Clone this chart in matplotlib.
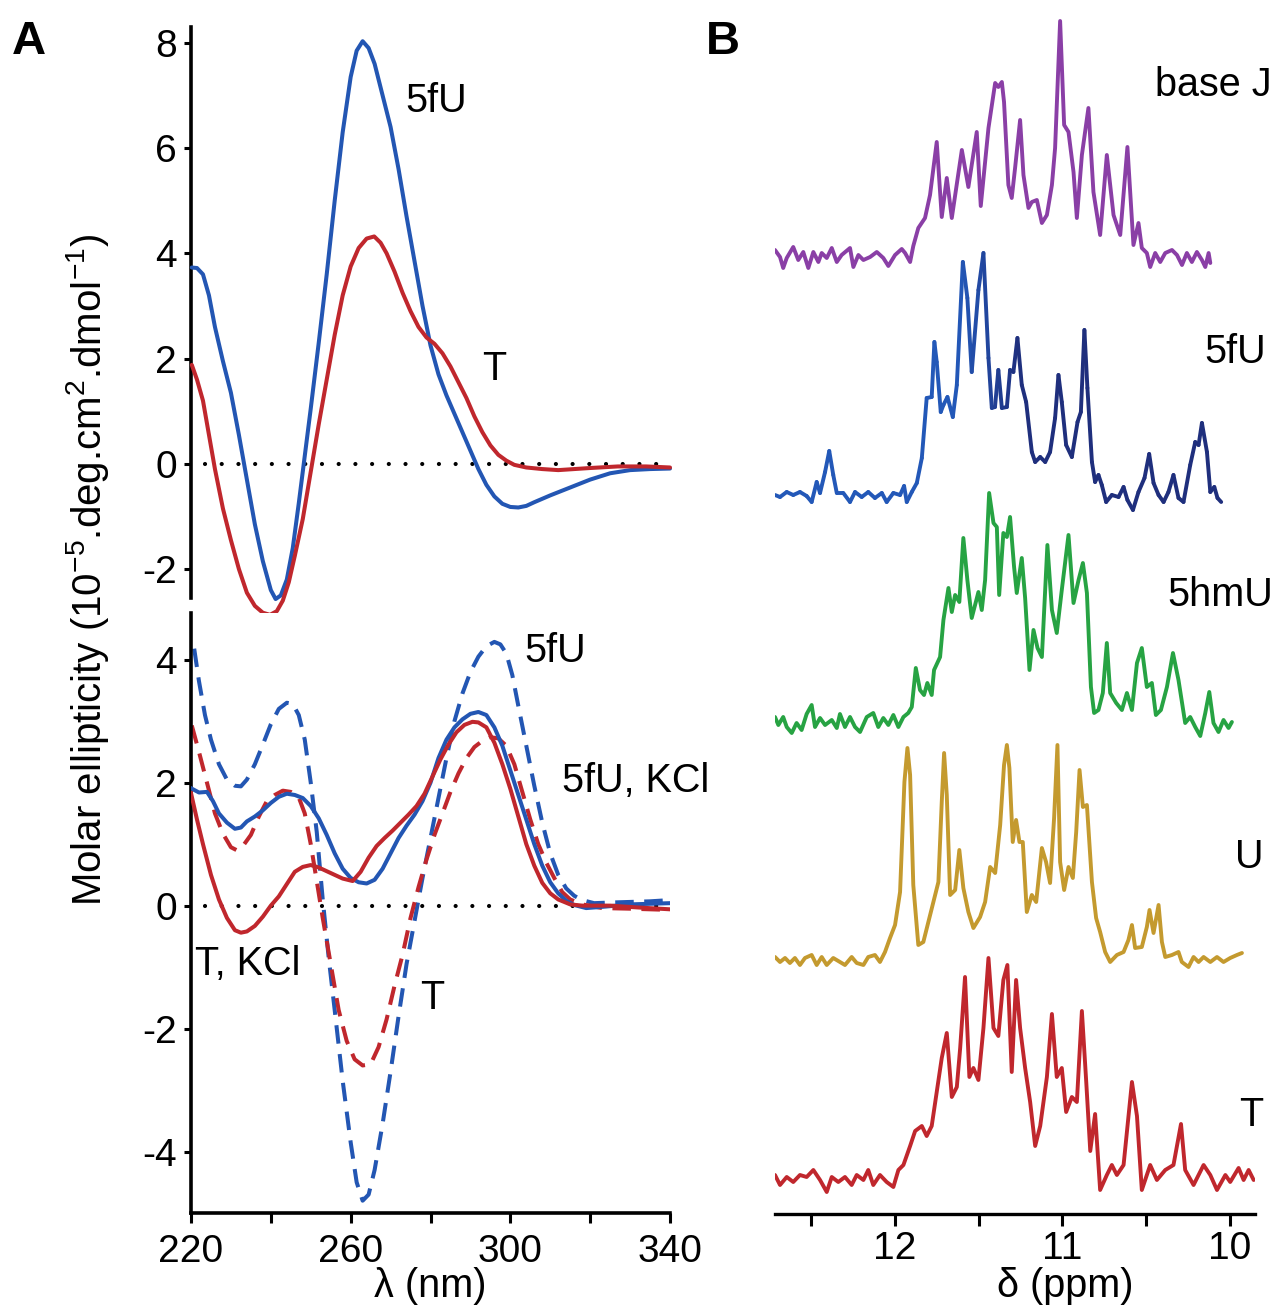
import numpy as np
import matplotlib
matplotlib.use("Agg")
import matplotlib.pyplot as plt
from matplotlib.collections import LineCollection
from matplotlib.colors import LinearSegmentedColormap

plt.rcParams["font.family"] = ["Liberation Sans", "DejaVu Sans"]
plt.rcParams["axes.unicode_minus"] = False
plt.rcParams["mathtext.fontset"] = "custom"
plt.rcParams["mathtext.rm"] = "Liberation Sans"
plt.rcParams["mathtext.it"] = "Liberation Sans"

# ---------------- Panel A: CD spectra (wavelength nm, ellipticity) ----------------
# top: no salt
cd_5fu_nm = [220.2, 221.5, 223, 224.5, 226, 228, 230, 232, 234, 236, 238, 240, 241.2,
             242.5, 244, 245.5, 247, 248.5, 250, 252, 254, 256, 258, 260, 261.5, 263,
             264.5, 266, 268, 270, 272, 274, 276, 278, 280, 282, 284, 286, 288, 290,
             292, 294, 296, 298, 300, 302, 304, 306, 310, 315, 320, 325, 330, 335, 340]
cd_5fu_val = [3.73, 3.72, 3.6, 3.2, 2.6, 1.95, 1.35, 0.55, -0.3, -1.15, -1.85, -2.4, -2.57,
              -2.5, -2.2, -1.6, -0.75, 0.15, 1.05, 2.3, 3.6, 5.0, 6.3, 7.35, 7.85, 8.03,
              7.9, 7.6, 7.0, 6.4, 5.6, 4.7, 3.85, 3.0, 2.25, 1.7, 1.3, 0.95, 0.6, 0.25,
              -0.1, -0.4, -0.62, -0.76, -0.82, -0.83, -0.8, -0.73, -0.6, -0.45, -0.3,
              -0.18, -0.12, -0.1, -0.09]
cd_t_nm = [220.2, 221.5, 223, 224.5, 226, 228, 230, 232, 234, 236, 238, 239.8, 241.5,
           243, 244.5, 246, 248, 250, 252, 254, 256, 258, 260, 262, 264, 265.9, 267.5,
           269, 271, 273, 275, 277, 279, 281, 283, 285, 287, 289, 291, 293, 295, 297,
           299, 301, 304, 308, 312, 316, 320, 327, 334, 340]
cd_t_val = [1.88, 1.6, 1.2, 0.55, -0.1, -0.85, -1.45, -2.0, -2.45, -2.7, -2.83, -2.87, -2.8,
            -2.6, -2.25, -1.75, -1.05, -0.15, 0.75, 1.6, 2.45, 3.2, 3.75, 4.1, 4.28, 4.32, 4.2,
            4.0, 3.65, 3.25, 2.9, 2.6, 2.4, 2.28, 2.1, 1.85, 1.55, 1.25, 0.9, 0.6, 0.35, 0.17,
            0.06, -0.02, -0.07, -0.1, -0.12, -0.1, -0.08, -0.05, -0.05, -0.07]

# bottom: dashed = no KCl, solid = KCl
cd_5fu_d_nm = [220.8, 222, 223.5, 225, 227, 229, 231, 232.5, 234, 236, 238, 240, 242, 244,
               245.5, 247, 248.5, 250, 251.5, 253, 254.5, 256, 258, 260, 261.5, 263, 264.5,
               266, 268, 270, 272, 274, 276, 278, 280, 282, 284, 286, 288, 290, 292, 294,
               296, 297.5, 299, 300.5, 302, 304, 306, 308, 310, 312, 314, 316, 318, 321,
               325, 330, 335, 340]
cd_5fu_d_val = [4.18, 3.65, 3.1, 2.7, 2.3, 2.05, 1.95, 1.94, 2.05, 2.3, 2.62, 2.95, 3.2, 3.3,
                3.28, 3.1, 2.7, 2.0, 1.2, 0.1, -0.85, -1.7, -2.85, -3.85, -4.5, -4.8, -4.7,
                -4.3, -3.55, -2.7, -1.8, -0.95, -0.25, 0.45, 1.1, 1.75, 2.4, 3.0, 3.45, 3.8,
                4.05, 4.22, 4.29, 4.25, 4.1, 3.75, 3.25, 2.6, 1.95, 1.35, 0.85, 0.5, 0.28,
                0.16, 0.09, 0.04, 0.05, 0.06, 0.07, 0.09]
cd_t_d_nm = [220.2, 222, 224, 226, 228, 230, 231.5, 233, 235, 237, 239, 241, 243, 245, 247,
             248.5, 250, 251.5, 253, 255, 257, 259, 261, 263, 265, 267, 269, 271, 273, 275,
             277, 279, 281, 283, 285, 287, 289, 291, 293, 295, 297, 299, 301, 303, 305, 307,
             309, 311, 313, 315, 318, 323, 330, 340]
cd_t_d_val = [2.93, 2.5, 2.0, 1.5, 1.17, 0.95, 0.9, 0.97, 1.15, 1.45, 1.7, 1.8, 1.87, 1.85,
              1.76, 1.5, 1.0, 0.4, -0.2, -0.95, -1.7, -2.2, -2.5, -2.6, -2.58, -2.3, -1.85,
              -1.3, -0.8, -0.2, 0.3, 0.75, 1.15, 1.5, 1.85, 2.15, 2.4, 2.58, 2.68, 2.74, 2.72,
              2.6, 2.3, 1.85, 1.4, 1.0, 0.7, 0.45, 0.22, 0.1, 0.02, -0.04, -0.05, -0.07]
cd_5fu_k_nm = [220, 222, 224, 225.5, 227, 229, 231, 232.5, 234, 236, 238, 240, 242, 244, 246,
               248, 250, 252, 254, 256, 258, 260, 262, 264, 266, 268, 270, 272, 274, 276, 278,
               280, 282, 284, 286, 288, 290, 292, 294, 296, 298, 300, 302, 304, 306, 308, 310,
               312, 314, 316, 319, 323, 330, 340]
cd_5fu_k_val = [1.91, 1.84, 1.85, 1.7, 1.5, 1.35, 1.25, 1.27, 1.37, 1.45, 1.55, 1.67, 1.77,
                1.82, 1.8, 1.75, 1.62, 1.42, 1.15, 0.85, 0.6, 0.45, 0.38, 0.36, 0.42, 0.6,
                0.85, 1.1, 1.3, 1.48, 1.7, 2.0, 2.4, 2.7, 2.9, 3.03, 3.12, 3.15, 3.1, 2.9,
                2.6, 2.2, 1.8, 1.4, 1.0, 0.65, 0.38, 0.2, 0.08, 0.01, -0.04, -0.02, 0.02, 0.04]
cd_t_k_nm = [220, 221.5, 223, 225, 227, 229, 231, 232.5, 234, 236, 238, 240, 242, 244, 246,
             248, 250, 252, 254, 256, 258, 260.5, 262.5, 264.5, 266.5, 268.5, 270.5, 272.5,
             274.5, 276.5, 278.5, 280.5, 282.5, 284.5, 286.5, 288.5, 290.5, 292, 294, 296,
             298, 300, 302, 304, 306, 308, 310, 312, 315, 318, 325, 332, 340]
cd_t_k_val = [1.83, 1.4, 1.0, 0.5, 0.1, -0.2, -0.4, -0.44, -0.42, -0.33, -0.18, 0.0, 0.15,
              0.35, 0.55, 0.63, 0.66, 0.62, 0.56, 0.5, 0.44, 0.4, 0.55, 0.78, 0.97, 1.1, 1.22,
              1.35, 1.48, 1.62, 1.82, 2.1, 2.38, 2.62, 2.82, 2.94, 2.99, 2.98, 2.9, 2.65, 2.3,
              1.9, 1.45, 1.0, 0.65, 0.37, 0.2, 0.1, 0.02, 0.0, 0.0, -0.03, -0.06]

# ---------------- Panel B: 1H NMR imino spectra (ppm, intensity a.u.) ----------------
nmr_j_ppm = [12.717, 12.687, 12.668, 12.647, 12.608, 12.578, 12.548, 12.518, 12.488, 12.458,
             12.438, 12.408, 12.378, 12.348, 12.319, 12.269, 12.249, 12.219, 12.189, 12.149,
             12.109, 12.070, 12.040, 12.000, 11.960, 11.940, 11.910, 11.891, 11.861, 11.821,
             11.791, 11.751, 11.721, 11.691, 11.661, 11.601, 11.562, 11.512, 11.488, 11.442,
             11.402, 11.383, 11.362, 11.349, 11.323, 11.303, 11.283, 11.253, 11.233, 11.203,
             11.183, 11.153, 11.123, 11.093, 11.063, 11.044, 11.014, 10.990, 10.964, 10.934,
             10.914, 10.884, 10.845, 10.815, 10.775, 10.735, 10.695, 10.655, 10.612, 10.576,
             10.546, 10.526, 10.496, 10.476, 10.446, 10.416, 10.386, 10.346, 10.316, 10.286,
             10.257, 10.227, 10.197, 10.167, 10.147, 10.127, 10.117]
nmr_j_int = [8, 1, -10, 0, 11, -2, 6, -10, 6, -4,
             5, 0, 10, -4, 3, 10, -9, 3, -2, 1,
             6, 0, -8, 3, 9, 5, -4, 12, 30, 40,
             63, 116, 41, 80, 40, 108, 71, 126, 52, 130,
             175, 171, 176, 156, 73, 60, 90, 138, 83, 50,
             56, 58, 35, 43, 73, 110, 237, 133, 126, 86,
             40, 103, 150, 66, 23, 103, 43, 23, 111, 13,
             35, 10, 5, -9, 5, -4, 5, 8, 3, -7,
             5, -4, 6, -2, -9, 5, -5]

nmr_5fu_ppm = [12.717, 12.687, 12.647, 12.608, 12.568, 12.528, 12.498, 12.468, 12.448, 12.418,
               12.393, 12.369, 12.348, 12.309, 12.269, 12.239, 12.199, 12.160, 12.120, 12.079,
               12.050, 12.010, 11.970, 11.946, 11.930, 11.900, 11.870, 11.840, 11.811, 11.781,
               11.765, 11.751, 11.727, 11.711, 11.687, 11.655, 11.631, 11.595, 11.568, 11.542,
               11.502, 11.472, 11.442, 11.422, 11.403, 11.383, 11.362, 11.332, 11.313, 11.293,
               11.269, 11.243, 11.217, 11.183, 11.163, 11.133, 11.103, 11.074, 11.044, 11.024,
               11.004, 10.978, 10.944, 10.910, 10.890, 10.869, 10.851, 10.824, 10.805, 10.785,
               10.765, 10.739, 10.705, 10.665, 10.635, 10.612, 10.579, 10.546, 10.510, 10.482,
               10.456, 10.426, 10.396, 10.367, 10.337, 10.307, 10.277, 10.237, 10.207, 10.187,
               10.167, 10.137, 10.117, 10.093, 10.074, 10.052]
nmr_5fu_int = [0, -2, 3, 0, 3, -1, -7, 13, 2, 23,
               44, 20, 2, 2, -7, 3, -2, 3, -3, 2,
               -7, 2, 0, 9, -7, 3, 12, 37, 97, 98,
               153, 133, 83, 90, 98, 78, 110, 233, 197, 123,
               205, 242, 137, 87, 88, 125, 87, 88, 125, 123,
               157, 110, 93, 43, 33, 38, 33, 43, 77, 120,
               93, 50, 38, 73, 83, 165, 107, 33, 13, 20,
               10, -7, 0, -2, 8, -5, -15, 3, 17, 41,
               12, 0, -7, 3, 20, -3, -7, 30, 53, 50,
               72, 43, 3, 8, -3, -7]

nmr_hmu_ppm = [12.717, 12.697, 12.668, 12.647, 12.617, 12.588, 12.558, 12.528, 12.498, 12.478,
               12.448, 12.418, 12.378, 12.348, 12.329, 12.299, 12.269, 12.239, 12.209, 12.169,
               12.130, 12.100, 12.070, 12.040, 12.010, 11.980, 11.950, 11.921, 11.900, 11.876,
               11.851, 11.827, 11.807, 11.781, 11.767, 11.731, 11.711, 11.681, 11.661, 11.641,
               11.616, 11.592, 11.568, 11.542, 11.502, 11.482, 11.462, 11.438, 11.412, 11.392,
               11.378, 11.353, 11.332, 11.313, 11.289, 11.273, 11.243, 11.223, 11.197, 11.173,
               11.149, 11.123, 11.090, 11.063, 11.034, 11.004, 10.964, 10.934, 10.904, 10.878,
               10.854, 10.830, 10.811, 10.785, 10.759, 10.735, 10.715, 10.679, 10.645, 10.615,
               10.585, 10.555, 10.526, 10.496, 10.466, 10.442, 10.412, 10.376, 10.340, 10.307,
               10.267, 10.237, 10.207, 10.177, 10.147, 10.123, 10.098, 10.068, 10.038, 10.008,
               9.988]
nmr_hmu_int = [5, -3, 5, -5, -11, -1, -8, 8, 17, -5,
               4, -3, 2, -6, 8, -5, 5, -5, -10, 5,
               9, -5, 4, -3, 7, -5, 5, 9, 15, 54,
               32, 27, 39, 27, 52, 65, 102, 134, 110, 127,
               120, 184, 142, 104, 130, 112, 142, 229, 199, 195,
               127, 189, 185, 205, 155, 129, 164, 124, 52, 92,
               74, 65, 177, 112, 89, 132, 187, 119, 142, 159,
               129, 35, 9, 12, 29, 79, 29, 19, 12, 29,
               12, 59, 74, 35, 39, 7, 12, 35, 69, 42,
               -1, 5, -5, -14, 9, 30, -1, -10, 2, -6,
               0]

nmr_u_ppm = [12.717, 12.687, 12.657, 12.628, 12.598, 12.568, 12.538, 12.498, 12.468, 12.438,
             12.408, 12.369, 12.329, 12.299, 12.259, 12.229, 12.189, 12.160, 12.120, 12.090,
             12.060, 12.030, 12.000, 11.970, 11.944, 11.926, 11.910, 11.891, 11.861, 11.831,
             11.801, 11.771, 11.741, 11.721, 11.707, 11.691, 11.671, 11.641, 11.616, 11.592,
             11.562, 11.532, 11.492, 11.462, 11.432, 11.402, 11.372, 11.349, 11.332, 11.317,
             11.297, 11.277, 11.257, 11.237, 11.213, 11.183, 11.157, 11.123, 11.098, 11.074,
             11.050, 11.030, 11.014, 10.990, 10.964, 10.938, 10.918, 10.898, 10.878, 10.854,
             10.824, 10.799, 10.775, 10.745, 10.715, 10.675, 10.635, 10.606, 10.585, 10.566,
             10.526, 10.496, 10.480, 10.456, 10.426, 10.406, 10.386, 10.346, 10.307, 10.287,
             10.247, 10.217, 10.187, 10.157, 10.117, 10.077, 10.038, 9.998, 9.958, 9.928]
nmr_u_int = [3, -2, 2, -3, 2, -5, 2, 5, -5, 3,
             -5, 2, -2, -5, 3, -3, -5, 3, 5, -2,
             8, 22, 35, 68, 178, 212, 185, 75, 15, 18,
             38, 58, 78, 158, 207, 165, 65, 70, 110, 72,
             48, 32, 43, 58, 93, 87, 135, 195, 215, 192,
             118, 140, 118, 118, 48, 65, 58, 112, 98, 77,
             142, 215, 98, 70, 93, 82, 128, 190, 153, 155,
             78, 42, 28, 8, -2, 5, 8, 20, 35, 12,
             13, 33, 50, 27, 55, 18, 3, 5, 8, -2,
             -7, 3, -2, 3, -2, 3, -2, 2, 5, 7]

nmr_t_ppm = [12.717, 12.687, 12.647, 12.608, 12.568, 12.528, 12.488, 12.448, 12.408, 12.378,
             12.339, 12.299, 12.259, 12.229, 12.189, 12.160, 12.130, 12.090, 12.050, 12.010,
             11.980, 11.950, 11.910, 11.880, 11.840, 11.811, 11.781, 11.751, 11.721, 11.691,
             11.661, 11.631, 11.611, 11.582, 11.556, 11.532, 11.502, 11.472, 11.442, 11.412,
             11.383, 11.353, 11.329, 11.303, 11.277, 11.253, 11.223, 11.193, 11.163, 11.133,
             11.093, 11.063, 11.034, 11.004, 10.978, 10.944, 10.914, 10.884, 10.858, 10.834,
             10.805, 10.775, 10.735, 10.705, 10.675, 10.635, 10.585, 10.555, 10.526, 10.476,
             10.436, 10.386, 10.337, 10.292, 10.267, 10.217, 10.157, 10.117, 10.077, 10.027,
             9.998, 9.948, 9.918, 9.888, 9.858]
nmr_t_int = [5, -5, 3, -2, 5, 3, 10, 0, -12, 3,
             -2, 3, -5, 5, 0, 10, -5, 5, -2, -7,
             10, 15, 34, 49, 54, 44, 54, 88, 122, 147,
             83, 93, 132, 203, 103, 112, 100, 152, 222, 152,
             144, 200, 215, 108, 200, 152, 112, 78, 34, 54,
             103, 166, 103, 112, 68, 83, 78, 169, 98, 29,
             66, -10, 5, 15, 5, 15, 98, 64, -10, 15,
             0, 10, 15, 56, 10, -5, 15, 5, -10, 5,
             -2, 12, 0, 10, 0]

nmr_names = ["base J", "5fU", "5hmU", "U", "T"]
nmr_offsets = [956, 719, 492, 254, 34]

# ---------------- figure ----------------
W, H = 1277, 1306
fig = plt.figure(figsize=(W / 100, H / 100), dpi=100)

BLUE = "#2356b3"
RED = "#c0272d"
LW = 2.9
FS = 28.5

def px_box(x0, y0, x1, y1):
    return [x0 / W, 1 - y1 / H, (x1 - x0) / W, (y1 - y0) / H]

axA1 = fig.add_axes(px_box(191, 27, 670, 598))
axA2 = fig.add_axes(px_box(191, 613, 670, 1213))
axB = fig.add_axes(px_box(775, 15, 1255, 1214))

for ax in (axA1, axA2):
    ax.set_xlim(220, 340)
    ax.spines["top"].set_visible(False)
    ax.spines["right"].set_visible(False)
    ax.spines["left"].set_linewidth(2.6)
    ax.spines["bottom"].set_linewidth(2.6)
    ax.tick_params(axis="y", direction="out", length=5, width=2.2, pad=5, labelsize=28)
    ax.plot([223.5, 339.5], [0, 0], color="black", lw=3.0,
            linestyle=(0, (0.01, 4.0)), dash_capstyle="round", zorder=1)

# top panel
axA1.spines["bottom"].set_visible(False)
axA1.set_xticks([])
axA1.set_ylim(-2.55, 8.3)
axA1.set_yticks([-2, 0, 2, 4, 6, 8])
axA1.plot(cd_5fu_nm, cd_5fu_val, color=BLUE, lw=LW, clip_on=False, zorder=3,
          solid_joinstyle="round", solid_capstyle="round")
axA1.plot(cd_t_nm, cd_t_val, color=RED, lw=LW, clip_on=False, zorder=3,
          solid_joinstyle="round", solid_capstyle="round")
axA1.text(273.6, 6.9, "5fU", fontsize=FS, ha="left", va="center")
axA1.text(293, 1.8, "T", fontsize=FS, ha="left", va="center")

# bottom panel
axA2.set_ylim(-5.0, 4.76)
axA2.set_yticks([-4, -2, 0, 2, 4])
axA2.set_xticks(range(220, 341, 20))
axA2.set_xticklabels(["220", "", "260", "", "300", "", "340"])
axA2.tick_params(axis="x", direction="out", length=7, width=2.2, pad=8, labelsize=28)
dash = (0, (4.6, 2.6))
axA2.plot(cd_5fu_d_nm, cd_5fu_d_val, color=BLUE, lw=LW, linestyle=dash, zorder=2)
axA2.plot(cd_t_d_nm, cd_t_d_val, color=RED, lw=LW, linestyle=dash, zorder=2)
axA2.plot(cd_5fu_k_nm, cd_5fu_k_val, color=BLUE, lw=LW, zorder=3,
          solid_joinstyle="round")
axA2.plot(cd_t_k_nm, cd_t_k_val, color=RED, lw=LW, zorder=3,
          solid_joinstyle="round")
axA2.text(303.5, 4.14, "5fU", fontsize=FS, ha="left", va="center")
axA2.text(313, 2.02, "5fU, KCl", fontsize=FS, ha="left", va="center")
axA2.text(221, -0.95, "T, KCl", fontsize=FS, ha="left", va="center")
axA2.text(277.5, -1.5, "T", fontsize=FS, ha="left", va="center")

fig.text(88 / W, 1 - 570 / H,
         "Molar ellipticity (10$^{-5}$.deg.cm$^{2}$.dmol$^{-1}$)",
         rotation=90, ha="center", va="center", fontsize=29)
fig.text(430 / W, 1 - 1297 / H, "λ (nm)", ha="center", va="baseline", fontsize=FS)

# panel B
axB.set_xlim(12.717, 9.85)
axB.set_ylim(0, 1199)
for s in ("top", "right", "left"):
    axB.spines[s].set_visible(False)
axB.spines["bottom"].set_linewidth(2.4)
axB.set_yticks([])
axB.set_xticks([12.5, 12, 11.5, 11, 10.5, 10])
axB.set_xticklabels(["", "12", "", "11", "", "10"])
axB.tick_params(axis="x", direction="out", length=8.5, width=2.2, pad=4, labelsize=28)

NMR_LW = 2.8
traces = [(nmr_j_ppm, nmr_j_int, "#8a3fa6"),
          (nmr_5fu_ppm, nmr_5fu_int, None),
          (nmr_hmu_ppm, nmr_hmu_int, "#27a343"),
          (nmr_u_ppm, nmr_u_int, "#c49a2f"),
          (nmr_t_ppm, nmr_t_int, "#c0272d")]
fu_cmap = LinearSegmentedColormap.from_list("fu", ["#2358b8", "#1f2f7d"])
for (ppm, inten, col), off in zip(traces, nmr_offsets):
    x = np.asarray(ppm)
    y = np.asarray(inten, dtype=float) + off
    if col is None:
        pts = np.column_stack([x, y]).reshape(-1, 1, 2)
        segs = np.concatenate([pts[:-1], pts[1:]], axis=1)
        mid = 0.5 * (x[:-1] + x[1:])
        t = np.clip((11.62 - mid) / (11.62 - 11.25), 0, 1)
        lc = LineCollection(segs, colors=fu_cmap(t), linewidths=NMR_LW,
                            capstyle="round", joinstyle="round")
        axB.add_collection(lc)
    else:
        axB.plot(x, y, color=col, lw=NMR_LW, solid_joinstyle="round",
                 solid_capstyle="round")

label_pos = [(1272, 85), (1266, 352), (1273, 595), (1263, 857), (1263, 1115)]
for name, (lx, ly) in zip(nmr_names, label_pos):
    fig.text(lx / W, 1 - ly / H, name, ha="right", va="center", fontsize=FS)
fig.text(1065 / W, 1 - 1297 / H, "δ (ppm)", ha="center", va="baseline", fontsize=FS)

fig.text(12 / W, 1 - 42 / H, "A", fontsize=34, fontweight="bold", ha="left", va="center")
fig.text(706 / W, 1 - 42 / H, "B", fontsize=34, fontweight="bold", ha="left", va="center")

fig.savefig("out.png", dpi=100)
